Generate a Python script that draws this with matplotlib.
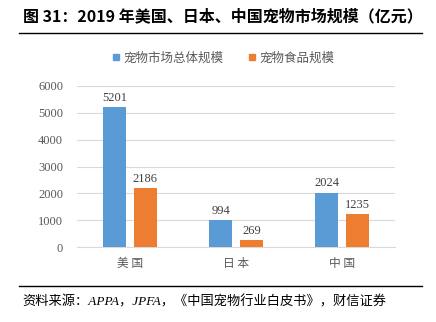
import matplotlib
matplotlib.use("Agg")
import matplotlib.pyplot as plt
import numpy as np
from matplotlib.lines import Line2D

plt.rcParams['font.family'] = ['Noto Sans CJK SC', 'DejaVu Sans']

categories = ["美国", "日本", "中国"]
total_market = [5201, 994, 2024]
food_market = [2186, 269, 1235]
series_names = ["宠物市场总体规模", "宠物食品规模"]
yticks = [0, 1000, 2000, 3000, 4000, 5000, 6000]

blue = "#5B9BD5"
orange = "#ED7D31"
txt = "#595959"
serif = ['Liberation Serif', 'Noto Sans CJK SC', 'DejaVu Serif']

fig = plt.figure(figsize=(4.36, 3.22), dpi=100)
ax = fig.add_axes([77/436, 1-247/322, (395-77)/436, (247-86)/322])

x = np.arange(len(categories))
w = 0.22
off = 0.145
b1 = ax.bar(x - off, total_market, w, color=blue, zorder=3)
b2 = ax.bar(x + off, food_market, w, color=orange, zorder=3)
for rects, vals in ((b1, total_market), (b2, food_market)):
    for r, v in zip(rects, vals):
        ax.text(r.get_x() + r.get_width()/2, v + 120, str(v), ha='center', va='bottom',
                fontsize=9, color="#404040", family=serif)

ax.set_xlim(-0.5, 2.5)
ax.set_ylim(0, 6000)
ax.set_yticks(yticks)
ax.set_yticklabels([str(t) for t in yticks], family=serif, fontsize=9, color=txt)
ax.set_xticks(x)
ax.set_xticklabels([" ".join(c) for c in categories], fontsize=8.5, color=txt)
ax.tick_params(axis='both', length=0, pad=10)
ax.tick_params(axis='x', pad=7)
ax.yaxis.grid(True, color="#D9D9D9", linewidth=0.8, zorder=0)
for s in ['top', 'right', 'left']:
    ax.spines[s].set_visible(False)
ax.spines['bottom'].set_color("#D9D9D9")
ax.spines['bottom'].set_linewidth(0.8)

handles = [Line2D([], [], marker='s', linestyle='', color=blue, markersize=5),
           Line2D([], [], marker='s', linestyle='', color=orange, markersize=5)]
fig.legend(handles, series_names, loc='center', bbox_to_anchor=(222/436, 1-58/322), ncol=2,
           frameon=False, prop={'size': 9}, labelcolor=txt, handletextpad=0.1, columnspacing=1.8,
           handlelength=1.0)

fig.text(223/436, 1-16/322, "图 31：2019 年美国、日本、中国宠物市场规模（亿元）", ha='center', va='center',
         fontsize=11.5, fontweight='bold', color='black', family=['Noto Sans CJK SC'])
fig.add_artist(Line2D([19/436, 422/436], [1-33/322, 1-33/322], color='black', linewidth=1.0))
fig.add_artist(Line2D([19/436, 422/436], [1-286/322, 1-286/322], color='black', linewidth=1.0))
fig.text(22/436, 1-302/322, "资料来源：APPA，JPFA，《中国宠物行业白皮书》，财信证券", ha='left', va='center',
         fontsize=9.5, style='italic', color='black', family=serif)

fig.savefig("out.png", dpi=100)
